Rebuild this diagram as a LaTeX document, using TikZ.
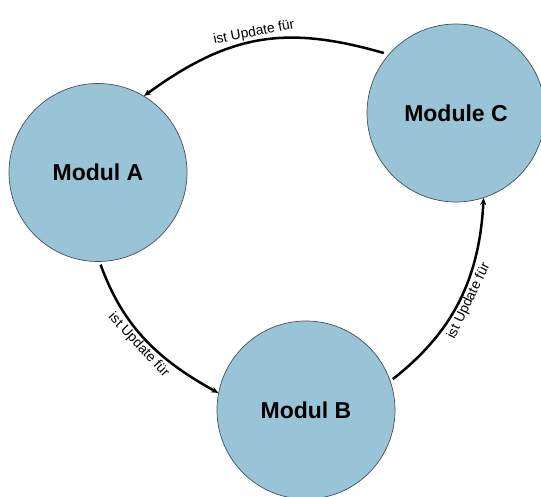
\documentclass[tikz,border=0pt]{standalone}
\usepackage{fontspec}
\setmainfont{Liberation Sans}
\usetikzlibrary{arrows.meta}
\definecolor{modfill}{RGB}{153,196,216}
\definecolor{modline}{RGB}{70,80,85}
\begin{document}
\begin{tikzpicture}[x=1pt,y=1pt,
  modul/.style={circle, draw=modline, line width=0.7pt, fill=modfill,
    minimum size=178pt, inner sep=0pt,
    font=\fontsize{23}{27}\selectfont\bfseries},
  update/.style={line width=2.5pt, -{Stealth[length=7pt,width=6pt]}},
  lbl/.style={font=\fontsize{13.8}{16}\selectfont, sloped, inner sep=1.2pt}]
\path[use as bounding box, clip] (0,0) rectangle (541,-497);

\node[modul] (A) at (98,-172.5) {Modul A};
\node[modul] (B) at (306,-410) {Modul B};
\node[modul] (C) at (456,-113) {Module C};

\draw[update, shorten <=5pt] (C.139) to[out=164, in=36, looseness=1.1]
  node[lbl, above, pos=0.52] {ist Update für} (A.59);
\draw[update, shorten <=3pt] (A.-89) to[out=-70, in=151]
  node[lbl, below, pos=0.5] {ist Update für} (B.169);
\draw[update, shorten <=3pt] (B.19) to[out=38, in=-93]
  node[lbl, below, pos=0.52] {ist Update für} (C.-72);
\end{tikzpicture}
\end{document}
